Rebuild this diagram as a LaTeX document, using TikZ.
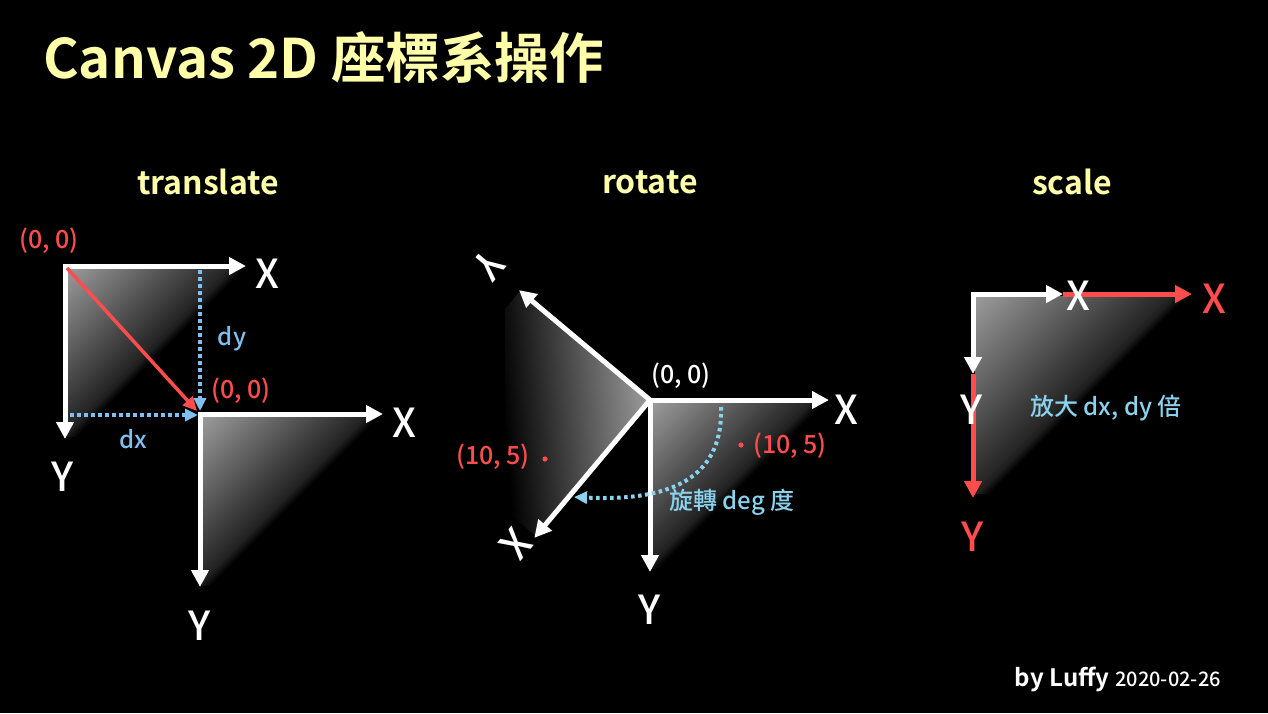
\documentclass[tikz,border=0pt]{standalone}
\usepackage{fontspec}
\setmainfont{Noto Sans CJK TC}[UprightFont=* Medium, BoldFont=* Bold]
\usetikzlibrary{arrows.meta}
\definecolor{ttl}{HTML}{FFFFAA}
\definecolor{rd}{HTML}{FF4D4D}
\definecolor{bl}{HTML}{7FC0F0}
\definecolor{cy}{HTML}{8AD2EE}
\definecolor{gA}{HTML}{9C9C9C}
\definecolor{gB}{HTML}{232323}
% gradient: origin x, origin y, canvas rotation, depth
\newcommand{\gradfill}[4]{%
  \shade[transform canvas={shift={(#1,#2)}, rotate=#3}, top color=gA, bottom color=gB] (-400,0) rectangle (400,#4);
  \shade[transform canvas={shift={(#1,#2)}, rotate=#3}, top color=gB, bottom color=black] (-400,#4) rectangle (400,#4+10);
}
\begin{document}
\begin{tikzpicture}[x=1pt,y=-1pt,
  axis/.style={draw=white, line width=5pt, line join=miter, {Triangle[length=17pt,width=17pt]}-{Triangle[length=17pt,width=17pt]}},
  raxis/.style={draw=rd, line width=5pt, -{Triangle[length=17pt,width=17pt]}},
  dotline/.style={line width=4pt, dash pattern=on 3.5pt off 3.5pt, -{Triangle[length=13pt,width=12pt]}},
  axlbl/.style={font=\fontsize{40}{40}\selectfont, text=white, inner sep=0pt},
  coord/.style={font=\fontsize{25}{25}\selectfont, inner sep=0pt},
  sect/.style={font=\fontsize{32}{32}\selectfont\bfseries, text=ttl, inner sep=0pt},
  note/.style={font=\fontsize{24}{24}\selectfont, inner sep=0pt}
]
\fill[black] (0,0) rectangle (1268,713);
\useasboundingbox (0,0) rectangle (1268,713);

% title
\node[anchor=west, font=\fontsize{54.5}{54.5}\selectfont\bfseries, text=ttl, inner sep=0pt] (title) at (43,57) {Canvas 2D 座標系操作};
\node[sect] (tTrans) at (208,182) {translate};
\node[sect] (tRot) at (650,182) {rotate};
\node[sect] (tScale) at (1072,182) {scale};

% ---------- translate ----------
\coordinate (O1) at (65,266);
\coordinate (X1) at (246,266);
\coordinate (Y1) at (65,439);
\begin{scope}
  \clip (67,268) rectangle (247,436);
  \gradfill{67}{268}{45}{116}
\end{scope}
\draw[axis] (X1) -- (O1) -- (Y1);
\coordinate (O2) at (200,414);
\coordinate (X2) at (383,414);
\coordinate (Y2) at (200,587);
\begin{scope}
  \clip (202,416) rectangle (382,585);
  \gradfill{202}{416}{45}{116}
\end{scope}
\draw[axis] (X2) -- (O2) -- (Y2);

\coordinate (redA) at (67,268);
\coordinate (redB) at (197,411);
\draw[rd, line width=3.5pt, -{Triangle[length=14pt,width=13pt]}] (redA) -- (redB);
\coordinate (dyS) at (200,270);
\coordinate (dyE) at (200,411);
\coordinate (dxS) at (70,415);
\coordinate (dxE) at (198,415);
\draw[dotline, draw=bl] (dyS) -- (dyE);
\draw[dotline, draw=bl] (dxS) -- (dxE);

\node[coord, text=rd] (t00a) at (49,241) {(0, 0)};
\node[coord, text=rd] (t00b) at (241,391) {(0, 0)};
\node[note, text=bl] (dy) at (232,339) {dy};
\node[note, text=bl] (dx) at (133,439) {dx};
\node[axlbl] (tX1) at (267,274) {X};
\node[axlbl] (tY1) at (63,477) {Y};
\node[axlbl] (tX2) at (404,423) {X};
\node[axlbl] (tY2) at (200,626) {Y};

% ---------- rotate ----------
\coordinate (O3) at (650,400);
\coordinate (X3) at (829,400);
\coordinate (Y3) at (650,572);
\begin{scope}
  \clip (650,400) -- (520,291) -- (505,309) -- (505,510) -- (536,536) -- cycle;
  \shade[transform canvas={shift={(650,400)}, rotate=-85}, top color=gA, bottom color=black] (-400,0) rectangle (400,148);
\end{scope}
\begin{scope}
  \clip (652,402) rectangle (822,568);
  \gradfill{652}{402}{45}{112}
\end{scope}
\draw[axis] (X3) -- (O3) -- (Y3);
\begin{scope}[shift={(650,400)}, rotate=-130]
  \coordinate (Or) at (0,0);
  \coordinate (Xr) at (180,0);
  \coordinate (Yr) at (0,171);
  \draw[axis] (Xr) -- (Or) -- (Yr);
  \node[axlbl, transform shape] (rX) at (197,10) {X};
  \node[axlbl, transform shape] (rY) at (0,210) {Y};
\end{scope}
\node[coord, text=white] (r00) at (681,376) {(0, 0)};
\fill[rd] (545,459) circle (2.6pt);
\fill[rd] (741,445) circle (2.6pt);
\node[coord, text=rd] (p1) at (493,457) {(10, 5)};
\node[coord, text=rd] (p2) at (790,446) {(10, 5)};
\coordinate (arcS) at (721,407);
\coordinate (arcE) at (574,497);
\draw[dotline, draw=cy] (arcS) .. controls (723,472) and (680,502) .. (arcE);
\node[note, text=cy] (rotTxt) at (732,502) {旋轉 deg 度};
\node[axlbl] (rX3) at (846,410) {X};
\node[axlbl] (rY3) at (650,610) {Y};

% ---------- scale ----------
\coordinate (O4) at (973,294);
\coordinate (X4w) at (1063,294);
\coordinate (Y4w) at (973,374);
\coordinate (X4r) at (1192,294);
\coordinate (Y4r) at (973,498);
\begin{scope}
  \clip (975,296) rectangle (1190,493);
  \gradfill{975}{296}{45}{140}
\end{scope}
\draw[raxis] (X4w) -- (X4r);
\draw[raxis] (Y4w) -- (Y4r);
\draw[axis] (X4w) -- (O4) -- (Y4w);
\node[axlbl] (sXw) at (1078,296) {X};
\node[axlbl] (sYw) at (972,410) {Y};
\node[axlbl, text=rd] (sXr) at (1214,299) {X};
\node[axlbl, text=rd] (sYr) at (973,537) {Y};
\node[note, text=cy] (scTxt) at (1106,408) {放大 dx, dy 倍};

% footer
\node[anchor=base east, text=white, inner sep=0pt] (foot) at (1221,686) {{\fontsize{24}{24}\selectfont\bfseries by Luffy}\hspace{6pt}{\fontsize{20}{20}\selectfont 2020-02-26}};
\end{tikzpicture}
\end{document}
